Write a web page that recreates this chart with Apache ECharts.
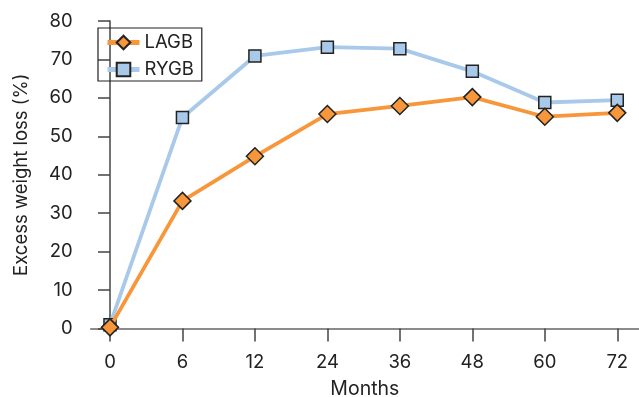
<!DOCTYPE html>
<html>
<head>
<meta charset="utf-8">
<script src="https://cdn.jsdelivr.net/npm/echarts@6/dist/echarts.min.js"></script>
<style>html,body{margin:0;padding:0;background:#fff}#c{width:639px;height:397px}</style>
</head>
<body>
<div id="c"></div>
<script>
var months = ['0', '6', '12', '24', '36', '48', '60', '72'];
var lagb = [0.3, 33.2, 44.8, 55.8, 57.9, 60.2, 55.1, 56.1];
var rygb = [1.0, 54.9, 70.9, 73.2, 72.8, 66.9, 58.8, 59.4];
var yTicks = [0, 10, 20, 30, 40, 50, 60, 70, 80];

var idx = months.map(function (m, i) { return i; });
function pairs(arr) { return arr.map(function (v, i) { return [i, v]; }); }

var font = 'Inter, "Liberation Sans", Arial, sans-serif';
var axisCol = '#444';
var chart = echarts.init(document.getElementById('c'), null, { renderer: 'canvas' });
chart.setOption({
  animation: false,
  backgroundColor: '#fff',
  grid: { left: 90.7, right: 0, top: 21, bottom: 68.5, containLabel: false, outerBoundsMode: 'none' },
  legend: {
    left: 98, top: 28, orient: 'vertical',
    data: ['LAGB', 'RYGB'],
    borderColor: '#222', borderWidth: 1.2,
    padding: [5, 8, 2, 7],
    itemWidth: 32, itemHeight: 17, itemGap: 8,
    lineStyle: { width: 5 },
    textStyle: { fontFamily: font, fontSize: 18.5, lineHeight: 19, color: '#222' }
  },
  xAxis: {
    type: 'value',
    min: -0.266, max: 7.30,
    name: 'Months', nameLocation: 'middle', nameGap: 51,
    nameTextStyle: { fontFamily: font, fontSize: 19.5, color: '#222' },
    axisLine: { show: true, lineStyle: { color: '#666', width: 1.5 } },
    axisTick: { show: true, length: 13, customValues: idx, lineStyle: { color: axisCol, width: 1.5 } },
    axisLabel: {
      customValues: idx, margin: 24,
      fontFamily: font, fontSize: 18.5, color: '#222',
      formatter: function (v) { return months[Math.round(v)]; }
    },
    splitLine: { show: false }
  },
  yAxis: {
    type: 'value', min: 0, max: 80, interval: 10,
    name: 'Excess weight loss (%)', nameLocation: 'middle', nameGap: 60,
    nameTextStyle: { fontFamily: font, fontSize: 18.5, color: '#222' },
    axisLine: { show: true, lineStyle: { color: axisCol, width: 1.5 } },
    axisTick: { show: true, length: 12, lineStyle: { color: axisCol, width: 1.5 } },
    axisLabel: {
      margin: 18, fontFamily: font, fontSize: 18.5, color: '#222',
      formatter: function (v) { return yTicks.indexOf(v) >= 0 ? String(v) : ''; }
    },
    splitLine: { show: false }
  },
  series: [
    {
      name: 'LAGB', type: 'line', z: 3,
      data: pairs(lagb),
      symbol: 'diamond', symbolSize: 17,
      lineStyle: { color: '#f7963b', width: 3.8 },
      itemStyle: { color: '#f7963b', borderColor: '#222', borderWidth: 1.5 }
    },
    {
      name: 'RYGB', type: 'line', z: 2,
      data: pairs(rygb),
      symbol: 'rect', symbolSize: 12,
      lineStyle: { color: '#a9c9ea', width: 3.8 },
      itemStyle: { color: '#a9c9ea', borderColor: '#222', borderWidth: 1.5 }
    }
  ]
});
</script>
</body>
</html>
